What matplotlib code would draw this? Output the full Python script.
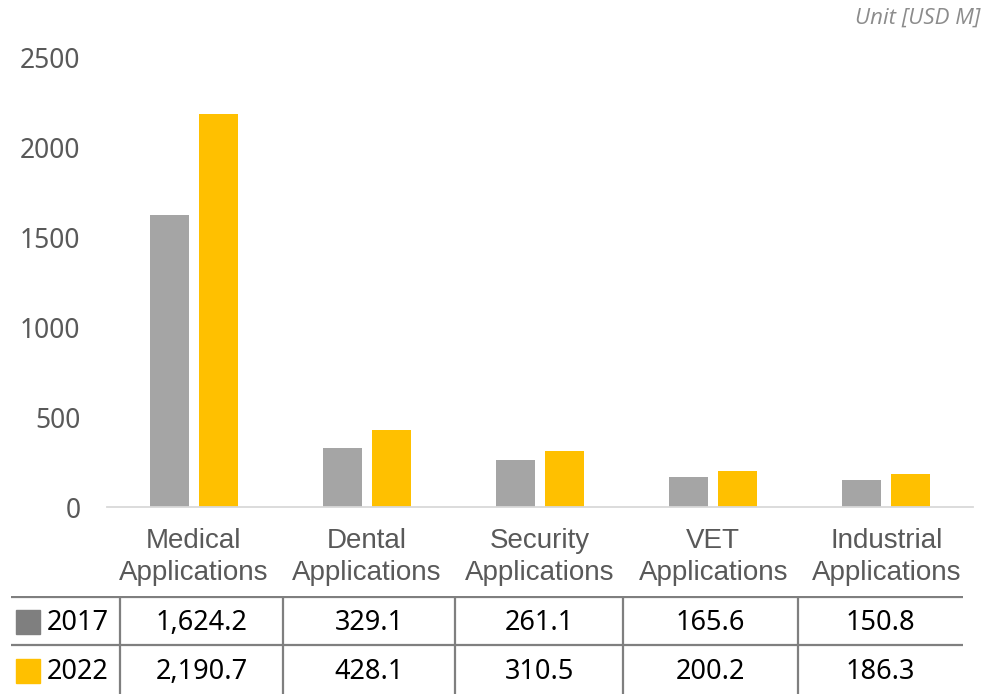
import matplotlib
matplotlib.use('Agg')
import matplotlib.pyplot as plt
import numpy as np

# Data
categories = ['Medical\nApplications', 'Dental\nApplications', 'Security\nApplications',
              'VET\nApplications', 'Industrial\nApplications']
years = ['2017', '2022']
values_2017 = [1624.2, 329.1, 261.1, 165.6, 150.8]
values_2022 = [2190.7, 428.1, 310.5, 200.2, 186.3]
yticks = [0, 500, 1000, 1500, 2000, 2500]

bar_colors = ['#a5a5a5', '#ffc000']
swatch_colors = ['#7f7f7f', '#ffc000']

W, H = 999, 694
fig = plt.figure(figsize=(W / 100, H / 100), dpi=100)

# Main bar axes (pixel layout converted to figure fractions)
ax = fig.add_axes([107 / W, (H - 507) / H, (973 - 107) / W, (507 - 58) / H])
x = np.arange(len(categories))
off = 0.141
bw = 0.225
ax.bar(x - off, values_2017, width=bw, color=bar_colors[0])
ax.bar(x + off, values_2022, width=bw, color=bar_colors[1])

ax.set_xlim(-0.5, len(categories) - 0.5)
ax.set_ylim(0, 2500)
ax.set_yticks(yticks)
ax.set_yticklabels([str(v) for v in yticks], fontfamily='Noto Sans', fontsize=19,
                   color='#595959')
ax.set_xticks(x)
ax.set_xticklabels(categories, fontfamily='Liberation Sans', fontsize=20,
                   color='#595959', linespacing=1.3)
ax.tick_params(axis='y', length=0, pad=19)
ax.tick_params(axis='x', length=0, pad=15)
for s in ['top', 'right', 'left']:
    ax.spines[s].set_visible(False)
ax.spines['bottom'].set_color('#d9d9d9')
ax.spines['bottom'].set_linewidth(1.3)

fig.text(980 / W, 1 - 18 / H, 'Unit [USD M]', ha='right', va='center',
         fontfamily='Open Sans', style='italic', fontsize=16, color='#8c8c8c')

# Data table below the chart, drawn in pixel coordinates
tax = fig.add_axes([0, 0, 1, (H - 596) / H])
tax.set_xlim(0, W)
tax.set_ylim(H, 596)
tax.axis('off')

line_kw = dict(color='#7f7f7f', linewidth=1.6, solid_capstyle='butt')
tax.plot([11, 963], [597, 597], **line_kw)
tax.plot([11, 963], [645, 645], **line_kw)
col_edges = [120, 283, 455, 623, 798, 963]
for xe in col_edges[:-1]:
    tax.plot([xe, xe], [596, H], **line_kw)

row_centers = [621, 670]
for r, (yr, vals) in enumerate(zip(years, [values_2017, values_2022])):
    yc = row_centers[r]
    tax.add_patch(plt.Rectangle((16, yc - 11), 24, 24, color=swatch_colors[r]))
    tax.text(47, yc + 2, yr, ha='left', va='center', fontfamily='Noto Sans',
             fontsize=19.5, color='black')
    for c, v in enumerate(vals):
        xc = (col_edges[c] + col_edges[c + 1]) / 2
        tax.text(xc, yc + 2, f'{v:,.1f}', ha='center', va='center',
                 fontfamily='Noto Sans', fontsize=19.5, color='black')

fig.savefig('out.png', dpi=100)
